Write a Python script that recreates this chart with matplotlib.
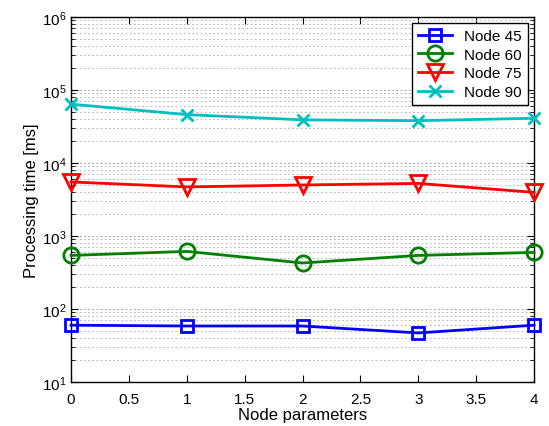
import matplotlib
matplotlib.use("Agg")
import matplotlib.pyplot as plt

# values
node_params = [0, 1, 2, 3, 4]
node45 = [60, 58.5, 58.5, 47, 60]
node60 = [542, 615, 427, 542, 596]
node75 = [5500, 4700, 5000, 5250, 3960]
node90 = [64000, 46000, 39000, 38000, 41000]
labels = ["Node 45", "Node 60", "Node 75", "Node 90"]
xticks = [0, 0.5, 1, 1.5, 2, 2.5, 3, 3.5, 4]

plt.rcParams['font.family'] = ['Liberation Sans', 'DejaVu Sans']

fig = plt.figure(figsize=(5.49, 4.27), dpi=100)
ax = fig.add_axes([71 / 549, 1 - 383 / 427, (534 - 71) / 549, (383 - 18) / 427])

ax.plot(node_params, node45, color='#0000ff', marker='s', mfc='none', ms=9, mew=2, lw=2, label=labels[0], clip_on=False, zorder=3)
ax.plot(node_params, node60, color='#008000', marker='o', mfc='none', ms=11, mew=2, lw=2, label=labels[1], clip_on=False, zorder=3)
ax.plot(node_params, node75, color='#ff0000', marker='v', mfc='none', ms=12, mew=2, lw=2, label=labels[2], clip_on=False, zorder=3)
ax.plot(node_params, node90, color='#00bfbf', marker='x', ms=9, mew=2, lw=2, label=labels[3], clip_on=False, zorder=3)

ax.set_yscale('log')
ax.set_xlim(0, 4)
ax.set_ylim(10, 1e6)
ax.set_xticks(xticks)
ax.set_xticklabels([f"{t:g}" for t in xticks])

# only horizontal grid lines, like the reference
ax.grid(True, axis='y', which='major', color='#888888', linestyle=(0, (2, 3)), lw=0.6)
ax.grid(True, axis='y', which='minor', color='#aaaaaa', linestyle=(0, (2, 3)), lw=0.6)
ax.set_axisbelow(True)

ax.tick_params(which='both', direction='in', top=True, right=True, labelsize=11)
ax.tick_params(which='major', length=5)
ax.tick_params(which='minor', length=3)
ax.tick_params(axis='x', pad=7)
for s in ax.spines.values():
    s.set_linewidth(1)

ax.set_xlabel("Node parameters", fontsize=12, labelpad=1)
ax.set_ylabel("Processing time [ms]", fontsize=12, labelpad=2)

leg = ax.legend(loc='upper right', fontsize=11, fancybox=False, framealpha=1,
                edgecolor='black', borderaxespad=0.4, handlelength=2.2, labelspacing=0.3)
leg.get_frame().set_linewidth(1)
leg.set_zorder(5)

fig.savefig("out.png", dpi=100)
